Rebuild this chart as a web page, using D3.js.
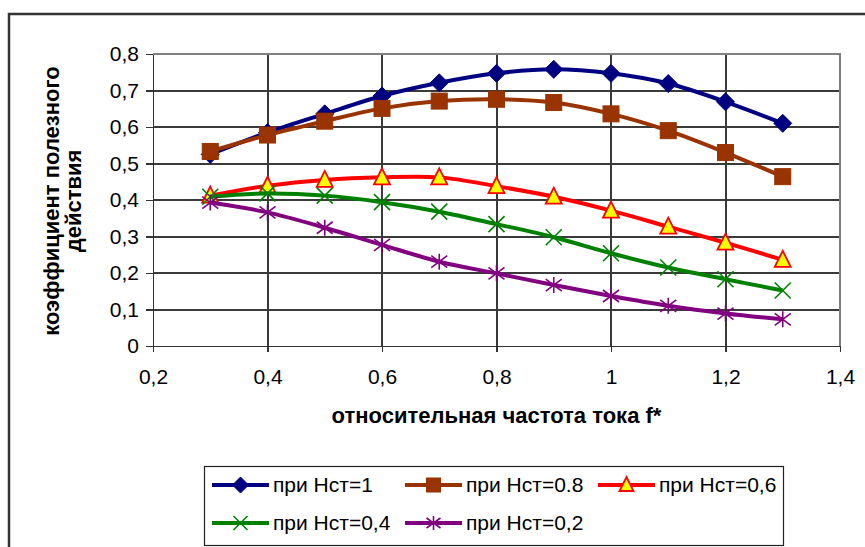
<!DOCTYPE html>
<head>
	<meta charset="utf-8">
	<style>
		body { margin: 0; background: #fff; }
		svg { display: block; font-family: "Liberation Sans", Arial, sans-serif; }
		.axis text { font-size: 21px; fill: #000; }
		.axis path, .axis line { stroke: #333; stroke-width: 1.5px; shape-rendering: crispEdges; }
		.grid line { stroke: #3a3a3a; stroke-width: 1.2px; shape-rendering: crispEdges; }
		.title { font-size: 22px; font-weight: bold; fill: #000; }
		.legend text { font-size: 21px; fill: #000; }
		.series path.line { fill: none; stroke-width: 4px; }
	</style>
	<title>КПД</title>
	<script src="https://d3js.org/d3.v7.min.js"></script>
</head>
<body>
	<div id="chart"></div>
	<script>
		// относительная частота f*
		var fVals = [0.3, 0.4, 0.5, 0.6, 0.7, 0.8, 0.9, 1.0, 1.1, 1.2, 1.3];
		// КПД для разных Нст
		var h10 = [0.525, 0.585, 0.636, 0.685, 0.721, 0.747, 0.758, 0.747, 0.719, 0.669, 0.610];
		var h08 = [0.533, 0.578, 0.616, 0.651, 0.671, 0.676, 0.667, 0.636, 0.590, 0.530, 0.464];
		var h06 = [0.412, 0.439, 0.455, 0.462, 0.462, 0.438, 0.409, 0.371, 0.327, 0.283, 0.236];
		var h04 = [0.409, 0.418, 0.412, 0.394, 0.368, 0.334, 0.298, 0.254, 0.215, 0.183, 0.152];
		var h02 = [0.393, 0.366, 0.324, 0.277, 0.231, 0.199, 0.167, 0.137, 0.110, 0.089, 0.073];
		var seriesNames = ["при Нст=1", "при Нст=0.8", "при Нст=0,6", "при Нст=0,4", "при Нст=0,2"];
		var xTicks = [0.2, 0.4, 0.6, 0.8, 1.0, 1.2, 1.4];
		var yTicks = [0, 0.1, 0.2, 0.3, 0.4, 0.5, 0.6, 0.7, 0.8];

		var styles = [
			{ color: "#000080", marker: "diamond", size: 18 },
			{ color: "#993300", marker: "square", size: 16 },
			{ color: "#ff0000", marker: "triangle", size: 16 },
			{ color: "#008000", marker: "cross", size: 16 },
			{ color: "#800080", marker: "star", size: 16 }
		];
		var series = [h10, h08, h06, h04, h02].map(function (vals, i) {
			return {
				name: seriesNames[i],
				style: styles[i],
				points: vals.map(function (v, j) { return { x: fVals[j], y: v }; })
			};
		});

		var width = 865, height = 547;
		var plot = { left: 153, right: 840, top: 54, bottom: 346 };

		var svg = d3.select("#chart").append("svg")
			.attr("width", width)
			.attr("height", height);

		// outer chart frame (runs past the picture edges)
		svg.append("path")
			.attr("d", "M9,560 L9,14 L880,14")
			.attr("fill", "none")
			.attr("stroke", "#333")
			.attr("stroke-width", 2.5);

		var x = d3.scaleLinear().domain([0.2, 1.4]).range([plot.left, plot.right]);
		var y = d3.scaleLinear().domain([0, 0.8]).range([plot.bottom, plot.top]);

		var fmt = function (d) { return String(+d.toFixed(1)).replace(".", ","); };

		// grid
		var grid = svg.append("g").attr("class", "grid");
		grid.selectAll(".h").data(yTicks.slice(1)).enter().append("line")
			.attr("x1", plot.left).attr("x2", plot.right)
			.attr("y1", function (d) { return Math.round(y(d)); })
			.attr("y2", function (d) { return Math.round(y(d)); });
		grid.selectAll(".v").data(xTicks.slice(1, -1)).enter().append("line")
			.attr("y1", plot.top).attr("y2", plot.bottom)
			.attr("x1", function (d) { return Math.round(x(d)); })
			.attr("x2", function (d) { return Math.round(x(d)); });

		// plot border (top / right)
		svg.append("path")
			.attr("d", "M" + plot.left + "," + plot.top + " H" + plot.right + " V" + plot.bottom)
			.attr("fill", "none")
			.attr("stroke", "#808080")
			.attr("stroke-width", 2)
			.attr("shape-rendering", "crispEdges");

		svg.append("g")
			.attr("class", "axis axis--x")
			.attr("transform", "translate(0," + plot.bottom + ")")
			.call(d3.axisBottom(x).tickValues(xTicks).tickFormat(fmt).tickSize(6).tickSizeOuter(0).tickPadding(17));

		svg.append("g")
			.attr("class", "axis axis--y")
			.attr("transform", "translate(" + plot.left + ",0)")
			.call(d3.axisLeft(y).tickValues(yTicks).tickFormat(fmt).tickSize(7).tickSizeOuter(0).tickPadding(7));

		// axis titles
		svg.append("text")
			.attr("class", "title")
			.attr("x", (plot.left + plot.right) / 2)
			.attr("y", 423)
			.attr("text-anchor", "middle")
			.text("относительная частота тока f*");

		var yt = svg.append("text")
			.attr("class", "title")
			.attr("transform", "translate(59,201) rotate(-90)")
			.attr("text-anchor", "middle");
		yt.append("tspan").attr("x", 0).attr("y", 0).text("коэффициент полезного");
		yt.append("tspan").attr("x", 0).attr("y", 22).text("действия");

		function drawMarker(g, type, color, s) {
			var h = s / 2;
			if (type === "diamond") {
				g.append("path").attr("d", "M0," + (-h) + "L" + h + ",0L0," + h + "L" + (-h) + ",0Z")
					.attr("fill", color).attr("stroke", color);
			} else if (type === "square") {
				g.append("rect").attr("x", -h).attr("y", -h).attr("width", s).attr("height", s)
					.attr("fill", color).attr("stroke", color);
			} else if (type === "triangle") {
				g.append("path").attr("d", "M0," + (-h - 1) + "L" + h + "," + (h - 1) + "L" + (-h) + "," + (h - 1) + "Z")
					.attr("fill", "#ffff00").attr("stroke", color).attr("stroke-width", 1.8);
			} else if (type === "cross") {
				g.append("path").attr("d", "M" + (-h) + "," + (-h) + "L" + h + "," + h + "M" + h + "," + (-h) + "L" + (-h) + "," + h)
					.attr("stroke", color).attr("stroke-width", 1.6).attr("fill", "none");
			} else if (type === "star") {
				g.append("path").attr("d", "M" + (-h) + "," + (-h + 2) + "L" + h + "," + (h - 2) + "M" + h + "," + (-h + 2) + "L" + (-h) + "," + (h - 2) +
					"M0," + (-h) + "L0," + h)
					.attr("stroke", color).attr("stroke-width", 1.6).attr("fill", "none");
			}
		}

		var line = d3.line()
			.x(function (d) { return x(d.x); })
			.y(function (d) { return y(d.y); })
			.curve(d3.curveCatmullRom.alpha(0.5));

		var sg = svg.selectAll(".series").data(series).enter().append("g").attr("class", "series");
		sg.each(function (s) {
			var g = d3.select(this);
			g.append("path").attr("class", "line")
				.attr("d", line(s.points))
				.attr("stroke", s.style.color);
			s.points.forEach(function (p) {
				var m = g.append("g").attr("transform", "translate(" + x(p.x) + "," + y(p.y) + ")");
				drawMarker(m, s.style.marker, s.style.color, s.style.size);
			});
		});

		// legend
		var legend = svg.append("g").attr("class", "legend");
		legend.append("rect")
			.attr("x", 204.5).attr("y", 466.5).attr("width", 579).attr("height", 79)
			.attr("fill", "#fff").attr("stroke", "#222").attr("stroke-width", 1.2);
		var legPos = [[212, 485], [405, 485], [598, 485], [212, 523], [405, 523]];
		series.forEach(function (s, i) {
			var lx = legPos[i][0], ly = legPos[i][1];
			var it = legend.append("g").attr("transform", "translate(" + lx + "," + ly + ")");
			it.append("line").attr("x1", 0).attr("x2", 57).attr("y1", 0).attr("y2", 0)
				.attr("stroke", s.style.color).attr("stroke-width", 4);
			drawMarker(it.append("g").attr("transform", "translate(28.5,0)"), s.style.marker, s.style.color, s.style.size - 2);
			it.append("text").attr("x", 61).attr("y", 0).attr("dy", "0.35em").text(s.name);
		});
	</script>
</body>
